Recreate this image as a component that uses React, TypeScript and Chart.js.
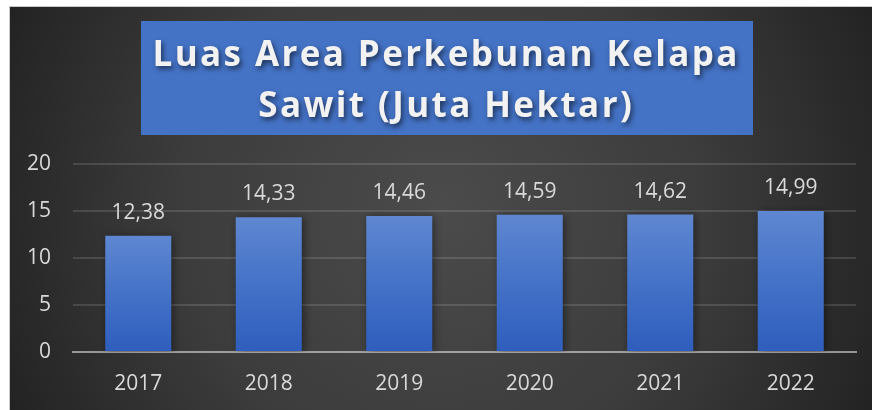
import React, { useEffect, useRef } from 'react';
import { Chart, registerables } from 'chart.js';

Chart.register(...registerables);

const categories = ['2017', '2018', '2019', '2020', '2021', '2022'];
const values = [12.38, 14.33, 14.46, 14.59, 14.62, 14.99];
const valueLabels = ['12,38', '14,33', '14,46', '14,59', '14,62', '14,99'];
const yMin = 0;
const yMax = 20;
const yStep = 5;
const titleLines = ['Luas Area Perkebunan Kelapa', 'Sawit (Juta Hektar)'];

const FONT = '"Open Sans", "DejaVu Sans", sans-serif';
const TEXT_COLOR = '#d9d9d9';

const backgroundPlugin = {
  id: 'bgPlugin',
  beforeDraw(chart: any) {
    const { ctx, width, height } = chart;
    ctx.save();
    ctx.fillStyle = '#ffffff';
    ctx.fillRect(0, 0, width, height);
    ctx.fillStyle = '#c9c9c9';
    ctx.fillRect(9, 6, width - 9, height - 6);
    const x0 = 10, y0 = 7;
    const w = width - x0, h = height - y0;
    const cx = x0 + w / 2, cy = y0 + h / 2;
    const g = ctx.createRadialGradient(cx, cy, 0, cx, cy, w * 0.55);
    g.addColorStop(0, '#4b4b4b');
    g.addColorStop(0.55, '#3c3c3c');
    g.addColorStop(1, '#232323');
    ctx.fillStyle = g;
    ctx.fillRect(x0, y0, w, h);
    ctx.restore();
  },
  afterDraw(chart: any) {
    const { ctx } = chart;
    ctx.save();
    // title box
    ctx.fillStyle = '#4472c4';
    ctx.fillRect(141, 21, 612, 114);
    ctx.font = `bold 35px ${FONT}`;
    const target = 585;
    const n = titleLines[0].length;
    (ctx as any).letterSpacing = '0px';
    const base = ctx.measureText(titleLines[0]).width;
    const spacing = (target - base) / (n - 1);
    (ctx as any).letterSpacing = `${spacing}px`;
    ctx.textAlign = 'left';
    ctx.textBaseline = 'alphabetic';
    ctx.shadowColor = 'rgba(0,0,0,0.55)';
    ctx.shadowBlur = 5;
    ctx.shadowOffsetX = 2;
    ctx.shadowOffsetY = 3;
    ctx.fillStyle = '#f2f2f2';
    const center = 445;
    const baselines = [66, 117];
    titleLines.forEach((line, i) => {
      const w = ctx.measureText(line).width - spacing;
      ctx.fillText(line, center - w / 2, baselines[i]);
    });
    ctx.restore();
  },
};

const shadowPlugin = {
  id: 'barShadow',
  beforeDatasetsDraw(chart: any) {
    const { ctx } = chart;
    ctx.save();
    ctx.shadowColor = 'rgba(0,0,0,0.45)';
    ctx.shadowBlur = 8;
    ctx.shadowOffsetX = 2;
    ctx.shadowOffsetY = 1;
  },
  afterDatasetsDraw(chart: any) {
    chart.ctx.restore();
  },
};

const labelPlugin = {
  id: 'valueLabels',
  afterDatasetsDraw(chart: any) {
    const { ctx } = chart;
    const meta = chart.getDatasetMeta(0);
    ctx.save();
    ctx.font = `21px ${FONT}`;
    ctx.fillStyle = TEXT_COLOR;
    ctx.textAlign = 'center';
    ctx.textBaseline = 'alphabetic';
    meta.data.forEach((bar: any, i: number) => {
      ctx.fillText(valueLabels[i], bar.x, bar.y - 17);
    });
    ctx.restore();
  },
};

export default function App() {
  const ref = useRef<HTMLCanvasElement | null>(null);
  useEffect(() => {
    document.body.style.margin = '0';
    const canvas = ref.current;
    if (!canvas) return;
    const chart = new Chart(canvas, {
      type: 'bar',
      data: {
        labels: categories,
        datasets: [
          {
            data: values,
            backgroundColor: (c: any) => {
              const ch = c.chart;
              const ys = ch.scales && ch.scales.y;
              if (!ch.chartArea || !ys || c.raw === undefined) return '#4472c4';
              const top = ys.getPixelForValue(c.raw);
              const bottom = ys.getPixelForValue(0);
              const g = ch.ctx.createLinearGradient(0, top, 0, bottom);
              g.addColorStop(0, '#5f87d1');
              g.addColorStop(0.5, '#4472c8');
              g.addColorStop(1, '#2e5dbd');
              return g;
            },
            borderWidth: 0,
            categoryPercentage: 1,
            barPercentage: 0.506,
          },
        ],
      },
      options: {
        animation: false,
        responsive: false,
        devicePixelRatio: 1,
        layout: { padding: { top: 164, right: 16, left: 0, bottom: 0 } },
        plugins: {
          legend: { display: false },
          tooltip: { enabled: false },
          title: { display: false },
        },
        scales: {
          x: {
            z: 1,
            grid: { display: false, drawTicks: false },
            border: { display: true, color: 'rgba(255,255,255,0.5)', width: 2 },
            ticks: { color: TEXT_COLOR, font: { family: FONT, size: 21 }, padding: 19 },
            afterFit: (s: any) => {
              s.height = 58;
            },
          },
          y: {
            min: yMin,
            max: yMax,
            ticks: {
              stepSize: yStep,
              color: TEXT_COLOR,
              font: { family: FONT, size: 21 },
              padding: 22,
            },
            grid: {
              drawTicks: false,
              color: (c: any) => (c.tick && c.tick.value === 0 ? 'rgba(0,0,0,0)' : 'rgba(255,255,255,0.13)'),
              lineWidth: 2,
            },
            border: { display: false },
            afterFit: (s: any) => {
              s.width = 73;
            },
          },
        },
      },
      plugins: [backgroundPlugin, shadowPlugin, labelPlugin],
    });
    return () => chart.destroy();
  }, []);
  return (
    <div style={{ position: 'absolute', left: 0, top: 0, width: 872, height: 410 }}>
      <canvas ref={ref} width={872} height={410} style={{ width: 872, height: 410, display: 'block' }} />
    </div>
  );
}
